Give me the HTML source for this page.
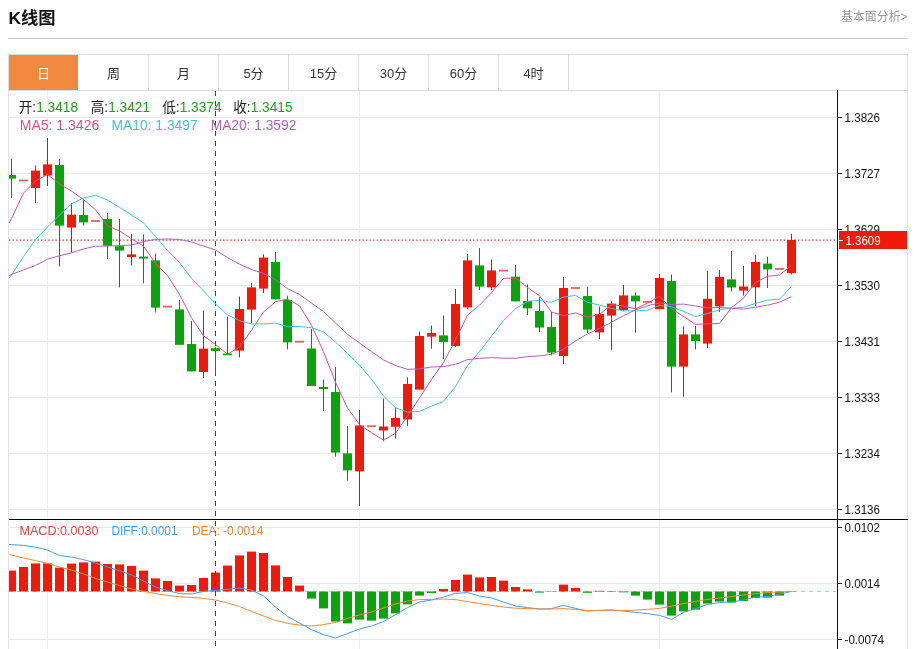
<!DOCTYPE html>
<html lang="zh-CN"><head><meta charset="utf-8"><title>K线图</title>
<style>
html,body{margin:0;padding:0;background:#fff;}
body{width:915px;height:649px;overflow:hidden;position:relative;font-family:"Liberation Sans","Noto Sans CJK SC",sans-serif;}
svg{position:absolute;left:0;top:0;display:block}
text{font-family:"Liberation Sans","Noto Sans CJK SC",sans-serif;}
</style></head><body>
<svg width="915" height="649" viewBox="0 0 915 649">

<text x="8.6" y="24" font-size="17" font-weight="bold" fill="#111" textLength="47" lengthAdjust="spacingAndGlyphs">K线图</text>
<text x="841" y="21" font-size="12" fill="#999" textLength="66.5" lengthAdjust="spacingAndGlyphs">基本面分析&gt;</text>
<rect x="8" y="38" width="900" height="1" fill="#ccc"/>
<rect x="8.5" y="54.5" width="899" height="36" fill="#fff" stroke="#ddd"/>
<rect x="9" y="55" width="69" height="35" fill="#f0883e"/>
<rect x="148" y="55" width="1" height="35" fill="#ddd"/>
<rect x="218" y="55" width="1" height="35" fill="#ddd"/>
<rect x="288" y="55" width="1" height="35" fill="#ddd"/>
<rect x="358" y="55" width="1" height="35" fill="#ddd"/>
<rect x="428" y="55" width="1" height="35" fill="#ddd"/>
<rect x="498" y="55" width="1" height="35" fill="#ddd"/>
<rect x="568" y="55" width="1" height="35" fill="#ddd"/>
<text x="43.5" y="78" font-size="13" fill="#fff" text-anchor="middle">日</text>
<text x="113.5" y="78" font-size="13" fill="#333" text-anchor="middle">周</text>
<text x="183.5" y="78" font-size="13" fill="#333" text-anchor="middle">月</text>
<text x="253.5" y="78" font-size="13" fill="#333" text-anchor="middle">5分</text>
<text x="323.5" y="78" font-size="13" fill="#333" text-anchor="middle">15分</text>
<text x="393.5" y="78" font-size="13" fill="#333" text-anchor="middle">30分</text>
<text x="463.5" y="78" font-size="13" fill="#333" text-anchor="middle">60分</text>
<text x="533.5" y="78" font-size="13" fill="#333" text-anchor="middle">4时</text>
<rect x="8" y="90" width="1" height="559" fill="#e2e2e2"/>
<rect x="907" y="90" width="1" height="559" fill="#ddd"/>
<rect x="9" y="117" width="828" height="1" fill="#e9e9e9"/>
<rect x="9" y="173" width="828" height="1" fill="#e9e9e9"/>
<rect x="9" y="229" width="828" height="1" fill="#e9e9e9"/>
<rect x="9" y="285" width="828" height="1" fill="#e9e9e9"/>
<rect x="9" y="341" width="828" height="1" fill="#e9e9e9"/>
<rect x="9" y="397" width="828" height="1" fill="#e9e9e9"/>
<rect x="9" y="453" width="828" height="1" fill="#e9e9e9"/>
<rect x="9" y="509" width="828" height="1" fill="#e9e9e9"/>
<rect x="9" y="527" width="828" height="1" fill="#e9e9e9"/>
<rect x="9" y="583" width="828" height="1" fill="#e9e9e9"/>
<rect x="9" y="639" width="828" height="1" fill="#e9e9e9"/>
<rect x="47" y="91" width="1" height="558" fill="#ecf0f4"/>
<rect x="359" y="91" width="1" height="558" fill="#ecf0f4"/>
<rect x="659" y="91" width="1" height="558" fill="#ecf0f4"/>
<defs><clipPath id="cp"><rect x="9" y="90" width="828" height="559"/></clipPath></defs>
<g clip-path="url(#cp)">
<line x1="9" y1="240.2" x2="836" y2="240.2" stroke="#d23c34" stroke-width="1.2" stroke-dasharray="1.4 2.17"/>
<line x1="215.5" y1="91" x2="215.5" y2="519" stroke="#444" stroke-width="1" stroke-dasharray="5 5"/>
<rect x="11" y="159.0" width="1" height="39.0" fill="#0a8a0a"/>
<rect x="7" y="175.0" width="9" height="3.6" fill="#0ba30b"/>
<rect x="19" y="179.60" width="9" height="1.8" fill="#e0655c"/>
<rect x="35" y="165.6" width="1" height="37.4" fill="#d01515"/>
<rect x="31" y="170.6" width="9" height="17.4" fill="#ee1b0c"/>
<rect x="47" y="138.0" width="1" height="48.0" fill="#d01515"/>
<rect x="43" y="164.4" width="9" height="11.2" fill="#ee1b0c"/>
<rect x="59" y="159.0" width="1" height="107.4" fill="#0a8a0a"/>
<rect x="55" y="165.0" width="9" height="60.6" fill="#0ba30b"/>
<rect x="71" y="203.0" width="1" height="49.4" fill="#d01515"/>
<rect x="67" y="214.6" width="9" height="13.0" fill="#ee1b0c"/>
<rect x="83" y="199.6" width="1" height="26.0" fill="#0a8a0a"/>
<rect x="79" y="215.0" width="9" height="7.4" fill="#0ba30b"/>
<rect x="91" y="220.10" width="9" height="1.8" fill="#e0655c"/>
<rect x="107" y="213.0" width="1" height="46.0" fill="#0a8a0a"/>
<rect x="103" y="219.0" width="9" height="26.8" fill="#0ba30b"/>
<rect x="119" y="219.0" width="1" height="68.4" fill="#0a8a0a"/>
<rect x="115" y="246.2" width="9" height="4.4" fill="#0ba30b"/>
<rect x="131" y="234.0" width="1" height="31.4" fill="#d01515"/>
<rect x="127" y="254.4" width="9" height="2.6" fill="#ee1b0c"/>
<rect x="143" y="234.4" width="1" height="49.0" fill="#0a8a0a"/>
<rect x="139" y="256.6" width="9" height="2.0" fill="#0ba30b"/>
<rect x="155" y="253.6" width="1" height="58.8" fill="#0a8a0a"/>
<rect x="151" y="260.4" width="9" height="47.2" fill="#0ba30b"/>
<rect x="163" y="305.70" width="9" height="1.8" fill="#e0655c"/>
<rect x="179" y="300.0" width="1" height="44.8" fill="#0a8a0a"/>
<rect x="175" y="309.4" width="9" height="35.4" fill="#0ba30b"/>
<rect x="191" y="321.0" width="1" height="50.4" fill="#0a8a0a"/>
<rect x="187" y="344.0" width="9" height="27.4" fill="#0ba30b"/>
<rect x="203" y="310.6" width="1" height="67.4" fill="#d01515"/>
<rect x="199" y="348.6" width="9" height="23.4" fill="#ee1b0c"/>
<rect x="215" y="347.1" width="1" height="26.7" fill="#0a8a0a"/>
<rect x="211" y="348.2" width="9" height="2.8" fill="#0ba30b"/>
<rect x="227" y="316.6" width="1" height="38.6" fill="#0a8a0a"/>
<rect x="223" y="353.6" width="9" height="1.6" fill="#0ba30b"/>
<rect x="239" y="296.4" width="1" height="61.0" fill="#d01515"/>
<rect x="235" y="309.0" width="9" height="41.6" fill="#ee1b0c"/>
<rect x="251" y="283.0" width="1" height="40.0" fill="#d01515"/>
<rect x="247" y="287.4" width="9" height="22.2" fill="#ee1b0c"/>
<rect x="263" y="254.4" width="1" height="38.6" fill="#d01515"/>
<rect x="259" y="257.6" width="9" height="31.0" fill="#ee1b0c"/>
<rect x="275" y="252.0" width="1" height="47.4" fill="#0a8a0a"/>
<rect x="271" y="262.0" width="9" height="37.4" fill="#0ba30b"/>
<rect x="287" y="295.6" width="1" height="53.8" fill="#0a8a0a"/>
<rect x="283" y="300.0" width="9" height="42.4" fill="#0ba30b"/>
<rect x="295" y="340.80" width="9" height="1.8" fill="#e0655c"/>
<rect x="311" y="329.0" width="1" height="57.0" fill="#0a8a0a"/>
<rect x="307" y="348.5" width="9" height="37.5" fill="#0ba30b"/>
<rect x="323" y="379.6" width="1" height="31.4" fill="#0a8a0a"/>
<rect x="319" y="387.0" width="9" height="2.0" fill="#0ba30b"/>
<rect x="335" y="367.0" width="1" height="89.6" fill="#0a8a0a"/>
<rect x="331" y="392.0" width="9" height="60.6" fill="#0ba30b"/>
<rect x="347" y="426.0" width="1" height="54.6" fill="#0a8a0a"/>
<rect x="343" y="453.4" width="9" height="17.0" fill="#0ba30b"/>
<rect x="359" y="410.0" width="1" height="96.0" fill="#d01515"/>
<rect x="355" y="425.5" width="9" height="45.9" fill="#ee1b0c"/>
<rect x="367" y="425.30" width="9" height="1.8" fill="#e0655c"/>
<rect x="383" y="398.6" width="1" height="42.7" fill="#d01515"/>
<rect x="379" y="426.5" width="9" height="4.0" fill="#ee1b0c"/>
<rect x="395" y="407.4" width="1" height="31.1" fill="#d01515"/>
<rect x="391" y="418.0" width="9" height="8.8" fill="#ee1b0c"/>
<rect x="407" y="377.4" width="1" height="48.4" fill="#d01515"/>
<rect x="403" y="384.0" width="9" height="35.5" fill="#ee1b0c"/>
<rect x="419" y="331.6" width="1" height="58.0" fill="#d01515"/>
<rect x="415" y="336.0" width="9" height="53.6" fill="#ee1b0c"/>
<rect x="431" y="325.6" width="1" height="23.0" fill="#d01515"/>
<rect x="427" y="333.0" width="9" height="3.6" fill="#ee1b0c"/>
<rect x="443" y="315.6" width="1" height="43.4" fill="#0a8a0a"/>
<rect x="439" y="335.4" width="9" height="6.6" fill="#0ba30b"/>
<rect x="455" y="289.0" width="1" height="58.0" fill="#d01515"/>
<rect x="451" y="304.0" width="9" height="42.0" fill="#ee1b0c"/>
<rect x="467" y="254.0" width="1" height="55.0" fill="#d01515"/>
<rect x="463" y="260.4" width="9" height="47.0" fill="#ee1b0c"/>
<rect x="479" y="248.0" width="1" height="42.0" fill="#0a8a0a"/>
<rect x="475" y="265.4" width="9" height="21.2" fill="#0ba30b"/>
<rect x="491" y="259.6" width="1" height="30.4" fill="#d01515"/>
<rect x="487" y="270.4" width="9" height="17.0" fill="#ee1b0c"/>
<rect x="499" y="269.70" width="9" height="1.8" fill="#e0655c"/>
<rect x="515" y="265.0" width="1" height="36.4" fill="#0a8a0a"/>
<rect x="511" y="276.6" width="9" height="24.8" fill="#0ba30b"/>
<rect x="527" y="284.4" width="1" height="30.6" fill="#0a8a0a"/>
<rect x="523" y="301.0" width="9" height="7.4" fill="#0ba30b"/>
<rect x="539" y="297.0" width="1" height="35.0" fill="#0a8a0a"/>
<rect x="535" y="311.0" width="9" height="16.6" fill="#0ba30b"/>
<rect x="551" y="312.0" width="1" height="43.4" fill="#0a8a0a"/>
<rect x="547" y="327.0" width="9" height="25.6" fill="#0ba30b"/>
<rect x="563" y="277.0" width="1" height="87.0" fill="#d01515"/>
<rect x="559" y="288.0" width="9" height="68.0" fill="#ee1b0c"/>
<rect x="571" y="287.10" width="9" height="1.8" fill="#e0655c"/>
<rect x="587" y="286.6" width="1" height="46.4" fill="#0a8a0a"/>
<rect x="583" y="296.0" width="9" height="33.6" fill="#0ba30b"/>
<rect x="599" y="306.6" width="1" height="32.4" fill="#d01515"/>
<rect x="595" y="314.0" width="9" height="18.4" fill="#ee1b0c"/>
<rect x="611" y="301.0" width="1" height="48.8" fill="#d01515"/>
<rect x="607" y="303.6" width="9" height="12.0" fill="#ee1b0c"/>
<rect x="623" y="285.0" width="1" height="26.0" fill="#d01515"/>
<rect x="619" y="295.4" width="9" height="14.6" fill="#ee1b0c"/>
<rect x="635" y="292.4" width="1" height="40.2" fill="#0a8a0a"/>
<rect x="631" y="295.6" width="9" height="5.8" fill="#0ba30b"/>
<rect x="643" y="301.10" width="9" height="1.8" fill="#e0655c"/>
<rect x="659" y="274.0" width="1" height="35.2" fill="#d01515"/>
<rect x="655" y="278.0" width="9" height="31.2" fill="#ee1b0c"/>
<rect x="671" y="274.4" width="1" height="118.0" fill="#0a8a0a"/>
<rect x="667" y="281.0" width="9" height="85.6" fill="#0ba30b"/>
<rect x="683" y="326.4" width="1" height="70.2" fill="#d01515"/>
<rect x="679" y="334.4" width="9" height="32.2" fill="#ee1b0c"/>
<rect x="695" y="326.0" width="1" height="23.4" fill="#0a8a0a"/>
<rect x="691" y="334.4" width="9" height="6.6" fill="#0ba30b"/>
<rect x="707" y="271.0" width="1" height="77.0" fill="#d01515"/>
<rect x="703" y="298.8" width="9" height="44.8" fill="#ee1b0c"/>
<rect x="719" y="270.0" width="1" height="42.0" fill="#d01515"/>
<rect x="715" y="276.8" width="9" height="29.6" fill="#ee1b0c"/>
<rect x="731" y="251.0" width="1" height="40.5" fill="#0a8a0a"/>
<rect x="727" y="279.4" width="9" height="8.1" fill="#0ba30b"/>
<rect x="743" y="266.0" width="1" height="29.6" fill="#d01515"/>
<rect x="739" y="286.5" width="9" height="4.1" fill="#ee1b0c"/>
<rect x="755" y="255.0" width="1" height="51.2" fill="#d01515"/>
<rect x="751" y="262.0" width="9" height="25.4" fill="#ee1b0c"/>
<rect x="767" y="256.6" width="1" height="31.4" fill="#0a8a0a"/>
<rect x="763" y="263.6" width="9" height="5.8" fill="#0ba30b"/>
<rect x="775" y="268.10" width="9" height="1.8" fill="#e0655c"/>
<rect x="791" y="234.0" width="1" height="40.4" fill="#d01515"/>
<rect x="787" y="240.0" width="9" height="33.0" fill="#ee1b0c"/>
<polyline fill="none" stroke="#e34f80" stroke-width="1" stroke-linejoin="round" points="9,223.3 11.5,218.5 23.5,193.0 35.5,181.0 47.5,174.4 59.5,183.9 71.5,191.1 83.5,199.5 95.5,209.6 107.5,225.9 119.5,230.9 131.5,238.8 143.5,246.1 155.5,263.4 167.5,275.6 179.5,294.4 191.5,317.8 203.5,335.8 215.5,344.5 227.5,354.2 239.5,347.0 251.5,330.2 263.5,312.0 275.5,301.7 287.5,299.2 299.5,305.7 311.5,325.4 323.5,351.7 335.5,382.3 347.5,407.9 359.5,424.7 371.5,432.7 383.5,440.2 395.5,433.3 407.5,416.0 419.5,398.1 431.5,379.5 443.5,362.6 455.5,339.8 467.5,315.1 479.5,305.2 491.5,292.7 503.5,278.4 515.5,277.9 527.5,287.5 539.5,295.7 551.5,312.1 563.5,315.6 575.5,312.9 587.5,317.2 599.5,314.4 611.5,304.6 623.5,306.1 635.5,308.8 647.5,303.3 659.5,296.1 671.5,308.7 683.5,316.5 695.5,324.4 707.5,323.8 719.5,323.5 731.5,307.7 743.5,298.1 755.5,282.3 767.5,276.4 779.5,274.9 791.5,265.4"/>
<polyline fill="none" stroke="#45c3d6" stroke-width="1" stroke-linejoin="round" points="9,278 11.5,275.0 23.5,256.7 35.5,239.6 47.5,227.0 59.5,215.0 71.5,204.0 83.5,198.0 95.5,195.3 107.5,200.0 119.5,207.4 131.5,215.0 143.5,222.8 155.5,236.5 167.5,250.7 179.5,262.6 191.5,278.3 203.5,290.9 215.5,303.9 227.5,314.9 239.5,320.7 251.5,324.0 263.5,323.9 275.5,323.1 287.5,326.7 299.5,326.4 311.5,327.8 323.5,331.9 335.5,342.0 347.5,353.5 359.5,365.2 371.5,379.1 383.5,396.0 395.5,407.8 407.5,412.0 419.5,411.4 431.5,406.1 443.5,401.4 455.5,386.6 467.5,365.6 479.5,351.7 491.5,336.1 503.5,320.5 515.5,308.8 527.5,301.3 539.5,300.4 551.5,302.4 563.5,297.0 575.5,295.4 587.5,302.3 599.5,305.1 611.5,308.4 623.5,310.9 635.5,310.9 647.5,310.2 659.5,305.3 671.5,306.7 683.5,311.3 695.5,316.6 707.5,313.5 719.5,309.8 731.5,308.2 743.5,307.3 755.5,303.4 767.5,300.1 779.5,299.2 791.5,286.5"/>
<polyline fill="none" stroke="#ad62bb" stroke-width="1" stroke-linejoin="round" points="9,276 11.5,274.5 23.5,269.8 35.5,265.4 47.5,259.2 59.5,255.8 71.5,252.8 83.5,249.0 95.5,246.2 107.5,246.0 119.5,245.6 131.5,245.0 143.5,241.6 155.5,239.4 167.5,239.0 179.5,239.4 191.5,242.0 203.5,246.0 215.5,250.0 227.5,257.6 239.5,264.1 251.5,269.5 263.5,273.4 275.5,279.8 287.5,288.7 299.5,294.5 311.5,303.1 323.5,311.4 335.5,323.0 347.5,334.2 359.5,343.0 371.5,351.6 383.5,359.9 395.5,365.5 407.5,369.3 419.5,368.9 431.5,367.0 443.5,366.6 455.5,364.3 467.5,359.6 479.5,358.4 491.5,357.6 503.5,358.2 515.5,358.3 527.5,356.6 539.5,355.9 551.5,354.3 563.5,349.2 575.5,341.0 587.5,333.9 599.5,328.4 611.5,322.2 623.5,315.7 635.5,309.9 647.5,305.8 659.5,302.9 671.5,304.5 683.5,304.1 695.5,306.0 707.5,307.9 719.5,307.4 731.5,308.3 743.5,309.1 755.5,307.1 767.5,305.2 779.5,302.2 791.5,296.6"/>
<line x1="9" y1="591.5" x2="836" y2="591.5" stroke="#9fd3ee" stroke-width="1" stroke-dasharray="4 4"/>
<rect x="7" y="570.6" width="9" height="20.9" fill="#ee1b0c"/>
<rect x="19" y="567.0" width="9" height="24.5" fill="#ee1b0c"/>
<rect x="31" y="563.4" width="9" height="28.1" fill="#ee1b0c"/>
<rect x="43" y="563.4" width="9" height="28.1" fill="#ee1b0c"/>
<rect x="55" y="567.6" width="9" height="23.9" fill="#ee1b0c"/>
<rect x="67" y="563.6" width="9" height="27.9" fill="#ee1b0c"/>
<rect x="79" y="562.4" width="9" height="29.1" fill="#ee1b0c"/>
<rect x="91" y="561.6" width="9" height="29.9" fill="#ee1b0c"/>
<rect x="103" y="564.0" width="9" height="27.5" fill="#ee1b0c"/>
<rect x="115" y="564.4" width="9" height="27.1" fill="#ee1b0c"/>
<rect x="127" y="566.0" width="9" height="25.5" fill="#ee1b0c"/>
<rect x="139" y="570.6" width="9" height="20.9" fill="#ee1b0c"/>
<rect x="151" y="578.4" width="9" height="13.1" fill="#ee1b0c"/>
<rect x="163" y="581.0" width="9" height="10.5" fill="#ee1b0c"/>
<rect x="175" y="585.6" width="9" height="5.9" fill="#ee1b0c"/>
<rect x="187" y="585.0" width="9" height="6.5" fill="#ee1b0c"/>
<rect x="199" y="578.0" width="9" height="13.5" fill="#ee1b0c"/>
<rect x="211" y="572.6" width="9" height="18.9" fill="#ee1b0c"/>
<rect x="223" y="565.6" width="9" height="25.9" fill="#ee1b0c"/>
<rect x="235" y="555.4" width="9" height="36.1" fill="#ee1b0c"/>
<rect x="247" y="551.6" width="9" height="39.9" fill="#ee1b0c"/>
<rect x="259" y="553.0" width="9" height="38.5" fill="#ee1b0c"/>
<rect x="271" y="565.4" width="9" height="26.1" fill="#ee1b0c"/>
<rect x="283" y="577.0" width="9" height="14.5" fill="#ee1b0c"/>
<rect x="295" y="585.6" width="9" height="5.9" fill="#ee1b0c"/>
<rect x="307" y="591.5" width="9" height="7.1" fill="#0ba30b"/>
<rect x="319" y="591.5" width="9" height="16.9" fill="#0ba30b"/>
<rect x="331" y="591.5" width="9" height="30.1" fill="#0ba30b"/>
<rect x="343" y="591.5" width="9" height="31.9" fill="#0ba30b"/>
<rect x="355" y="591.5" width="9" height="28.1" fill="#0ba30b"/>
<rect x="367" y="591.5" width="9" height="29.1" fill="#0ba30b"/>
<rect x="379" y="591.5" width="9" height="27.1" fill="#0ba30b"/>
<rect x="391" y="591.5" width="9" height="21.9" fill="#0ba30b"/>
<rect x="403" y="591.5" width="9" height="12.9" fill="#0ba30b"/>
<rect x="415" y="591.5" width="9" height="4.1" fill="#0ba30b"/>
<rect x="427" y="591.5" width="9" height="1.5" fill="#0ba30b"/>
<rect x="439" y="589.0" width="9" height="2.5" fill="#ee1b0c"/>
<rect x="451" y="580.0" width="9" height="11.5" fill="#ee1b0c"/>
<rect x="463" y="574.6" width="9" height="16.9" fill="#ee1b0c"/>
<rect x="475" y="577.4" width="9" height="14.1" fill="#ee1b0c"/>
<rect x="487" y="577.0" width="9" height="14.5" fill="#ee1b0c"/>
<rect x="499" y="580.6" width="9" height="10.9" fill="#ee1b0c"/>
<rect x="511" y="587.0" width="9" height="4.5" fill="#ee1b0c"/>
<rect x="523" y="589.4" width="9" height="2.1" fill="#ee1b0c"/>
<rect x="535" y="591.5" width="9" height="1.1" fill="#0ba30b"/>
<rect x="547" y="591.5" width="9" height="0.4" fill="#0ba30b"/>
<rect x="559" y="584.6" width="9" height="6.9" fill="#ee1b0c"/>
<rect x="571" y="588.0" width="9" height="3.5" fill="#ee1b0c"/>
<rect x="583" y="591.5" width="9" height="1.3" fill="#0ba30b"/>
<rect x="595" y="590.8" width="9" height="0.7" fill="#ee1b0c"/>
<rect x="607" y="591.0" width="9" height="0.5" fill="#ee1b0c"/>
<rect x="619" y="591.5" width="9" height="0.8" fill="#0ba30b"/>
<rect x="631" y="591.5" width="9" height="4.1" fill="#0ba30b"/>
<rect x="643" y="591.5" width="9" height="8.1" fill="#0ba30b"/>
<rect x="655" y="591.5" width="9" height="13.1" fill="#0ba30b"/>
<rect x="667" y="591.5" width="9" height="24.1" fill="#0ba30b"/>
<rect x="679" y="591.5" width="9" height="19.9" fill="#0ba30b"/>
<rect x="691" y="591.5" width="9" height="18.1" fill="#0ba30b"/>
<rect x="703" y="591.5" width="9" height="12.1" fill="#0ba30b"/>
<rect x="715" y="591.5" width="9" height="10.1" fill="#0ba30b"/>
<rect x="727" y="591.5" width="9" height="11.1" fill="#0ba30b"/>
<rect x="739" y="591.5" width="9" height="9.5" fill="#0ba30b"/>
<rect x="751" y="591.5" width="9" height="6.5" fill="#0ba30b"/>
<rect x="763" y="591.5" width="9" height="6.1" fill="#0ba30b"/>
<rect x="775" y="591.5" width="9" height="4.1" fill="#0ba30b"/>
<rect x="787" y="591.5" width="9" height="0.4" fill="#0ba30b"/>
<polyline fill="none" stroke="#4a9be6" stroke-width="1" stroke-linejoin="round" points="9,544.4 11.5,544.6 23.5,545.4 35.5,547.2 47.5,550.0 59.5,555.6 71.5,557.0 83.5,559.6 95.5,563.0 107.5,567.0 119.5,570.6 131.5,575.0 143.5,581.0 155.5,587.0 167.5,590.6 179.5,593.6 191.5,594.0 203.5,591.4 215.5,590.4 227.5,589.4 239.5,588.0 251.5,590.0 263.5,596.0 275.5,607.0 287.5,616.4 299.5,623.0 311.5,629.6 323.5,634.6 335.5,638.0 347.5,633.6 359.5,629.0 371.5,626.0 383.5,621.6 395.5,614.6 407.5,607.6 419.5,602.0 431.5,600.0 443.5,597.0 455.5,593.4 467.5,592.6 479.5,596.0 491.5,598.0 503.5,602.0 515.5,606.0 527.5,607.6 539.5,609.0 551.5,608.6 563.5,605.4 575.5,608.4 587.5,611.0 599.5,610.4 611.5,610.0 623.5,611.0 635.5,612.4 647.5,613.6 659.5,615.4 671.5,619.4 683.5,612.4 695.5,608.6 707.5,604.4 719.5,602.6 731.5,602.0 743.5,600.0 755.5,597.0 767.5,596.6 779.5,594.0 791.5,591.5"/>
<polyline fill="none" stroke="#f08a3c" stroke-width="1" stroke-linejoin="round" points="9,554.6 11.5,555.0 23.5,558.0 35.5,560.6 47.5,563.4 59.5,567.0 71.5,570.0 83.5,574.0 95.5,578.4 107.5,582.0 119.5,585.6 131.5,589.0 143.5,591.4 155.5,593.6 167.5,595.4 179.5,596.8 191.5,597.4 203.5,598.4 215.5,600.0 227.5,603.0 239.5,606.6 251.5,611.4 263.5,616.0 275.5,620.4 287.5,623.4 299.5,625.0 311.5,626.0 323.5,624.6 335.5,622.4 347.5,618.4 359.5,615.0 371.5,612.0 383.5,608.0 395.5,604.0 407.5,601.0 419.5,599.6 431.5,599.4 443.5,599.0 455.5,599.6 467.5,601.6 479.5,603.6 491.5,605.4 503.5,607.0 515.5,608.2 527.5,608.6 539.5,609.0 551.5,609.0 563.5,608.6 575.5,609.4 587.5,610.6 599.5,610.4 611.5,610.2 623.5,610.6 635.5,610.2 647.5,609.4 659.5,608.4 671.5,606.2 683.5,603.6 695.5,601.4 707.5,599.4 719.5,598.0 731.5,596.6 743.5,595.0 755.5,593.6 767.5,592.6 779.5,592.0 791.5,591.5"/>
<line x1="215.5" y1="521" x2="215.5" y2="649" stroke="#444" stroke-width="1" stroke-dasharray="5 5"/>
</g>
<rect x="9" y="519" width="899" height="1" fill="#000"/>
<rect x="837" y="90" width="1" height="559" fill="#111"/>
<rect x="838" y="117" width="4" height="1" fill="#111"/>
<text x="844.5" y="121.5" font-size="12" fill="#111" textLength="35.5" lengthAdjust="spacingAndGlyphs">1.3826</text>
<rect x="838" y="173" width="4" height="1" fill="#111"/>
<text x="844.5" y="177.5" font-size="12" fill="#111" textLength="35.5" lengthAdjust="spacingAndGlyphs">1.3727</text>
<rect x="838" y="229" width="4" height="1" fill="#111"/>
<text x="844.5" y="233.5" font-size="12" fill="#111" textLength="35.5" lengthAdjust="spacingAndGlyphs">1.3629</text>
<rect x="838" y="285" width="4" height="1" fill="#111"/>
<text x="844.5" y="289.5" font-size="12" fill="#111" textLength="35.5" lengthAdjust="spacingAndGlyphs">1.3530</text>
<rect x="838" y="341" width="4" height="1" fill="#111"/>
<text x="844.5" y="345.5" font-size="12" fill="#111" textLength="35.5" lengthAdjust="spacingAndGlyphs">1.3431</text>
<rect x="838" y="397" width="4" height="1" fill="#111"/>
<text x="844.5" y="401.5" font-size="12" fill="#111" textLength="35.5" lengthAdjust="spacingAndGlyphs">1.3333</text>
<rect x="838" y="453" width="4" height="1" fill="#111"/>
<text x="844.5" y="457.5" font-size="12" fill="#111" textLength="35.5" lengthAdjust="spacingAndGlyphs">1.3234</text>
<rect x="838" y="509" width="4" height="1" fill="#111"/>
<text x="844.5" y="513.5" font-size="12" fill="#111" textLength="35.5" lengthAdjust="spacingAndGlyphs">1.3136</text>
<rect x="838" y="527" width="4" height="1" fill="#111"/>
<text x="844.5" y="531.5" font-size="12" fill="#111" textLength="35.5" lengthAdjust="spacingAndGlyphs">0.0102</text>
<rect x="838" y="583" width="4" height="1" fill="#111"/>
<text x="844.5" y="587.5" font-size="12" fill="#111" textLength="35.5" lengthAdjust="spacingAndGlyphs">0.0014</text>
<rect x="838" y="639" width="4" height="1" fill="#111"/>
<text x="844.5" y="643.5" font-size="12" fill="#111" textLength="39.5" lengthAdjust="spacingAndGlyphs">-0.0074</text>
<rect x="839" y="231" width="68" height="18" fill="#ee1b0c"/>
<rect x="839" y="240" width="4" height="1" fill="#fff"/>
<text x="845.5" y="244.7" font-size="12.5" fill="#fff" textLength="35" lengthAdjust="spacingAndGlyphs">1.3609</text>
<text x="18.7" y="112" font-size="14" textLength="59.3" lengthAdjust="spacingAndGlyphs"><tspan fill="#222">开:</tspan><tspan fill="#1aa31a">1.3418</tspan></text>
<text x="90.7" y="112" font-size="14" textLength="59.3" lengthAdjust="spacingAndGlyphs"><tspan fill="#222">高:</tspan><tspan fill="#1aa31a">1.3421</tspan></text>
<text x="162.2" y="112" font-size="14" textLength="59.3" lengthAdjust="spacingAndGlyphs"><tspan fill="#222">低:</tspan><tspan fill="#1aa31a">1.3374</tspan></text>
<text x="233.2" y="112" font-size="14" textLength="59.3" lengthAdjust="spacingAndGlyphs"><tspan fill="#222">收:</tspan><tspan fill="#1aa31a">1.3415</tspan></text>
<text x="19.7" y="130" font-size="14" fill="#e34f80" textLength="79.6" lengthAdjust="spacingAndGlyphs">MA5: 1.3426</text>
<text x="111.5" y="130" font-size="14" fill="#45c3d6" textLength="86.2" lengthAdjust="spacingAndGlyphs">MA10: 1.3497</text>
<text x="210.7" y="130" font-size="14" fill="#ad62bb" textLength="85.6" lengthAdjust="spacingAndGlyphs">MA20: 1.3592</text>
<text x="19.4" y="535" font-size="13" fill="#e2473f" textLength="79.2" lengthAdjust="spacingAndGlyphs">MACD:0.0030</text>
<text x="111.4" y="535" font-size="13" fill="#4a9be6" textLength="66.2" lengthAdjust="spacingAndGlyphs">DIFF:0.0001</text>
<text x="192" y="535" font-size="13" fill="#e8843c" textLength="71.4" lengthAdjust="spacingAndGlyphs">DEA: -0.0014</text>
</svg></body></html>
